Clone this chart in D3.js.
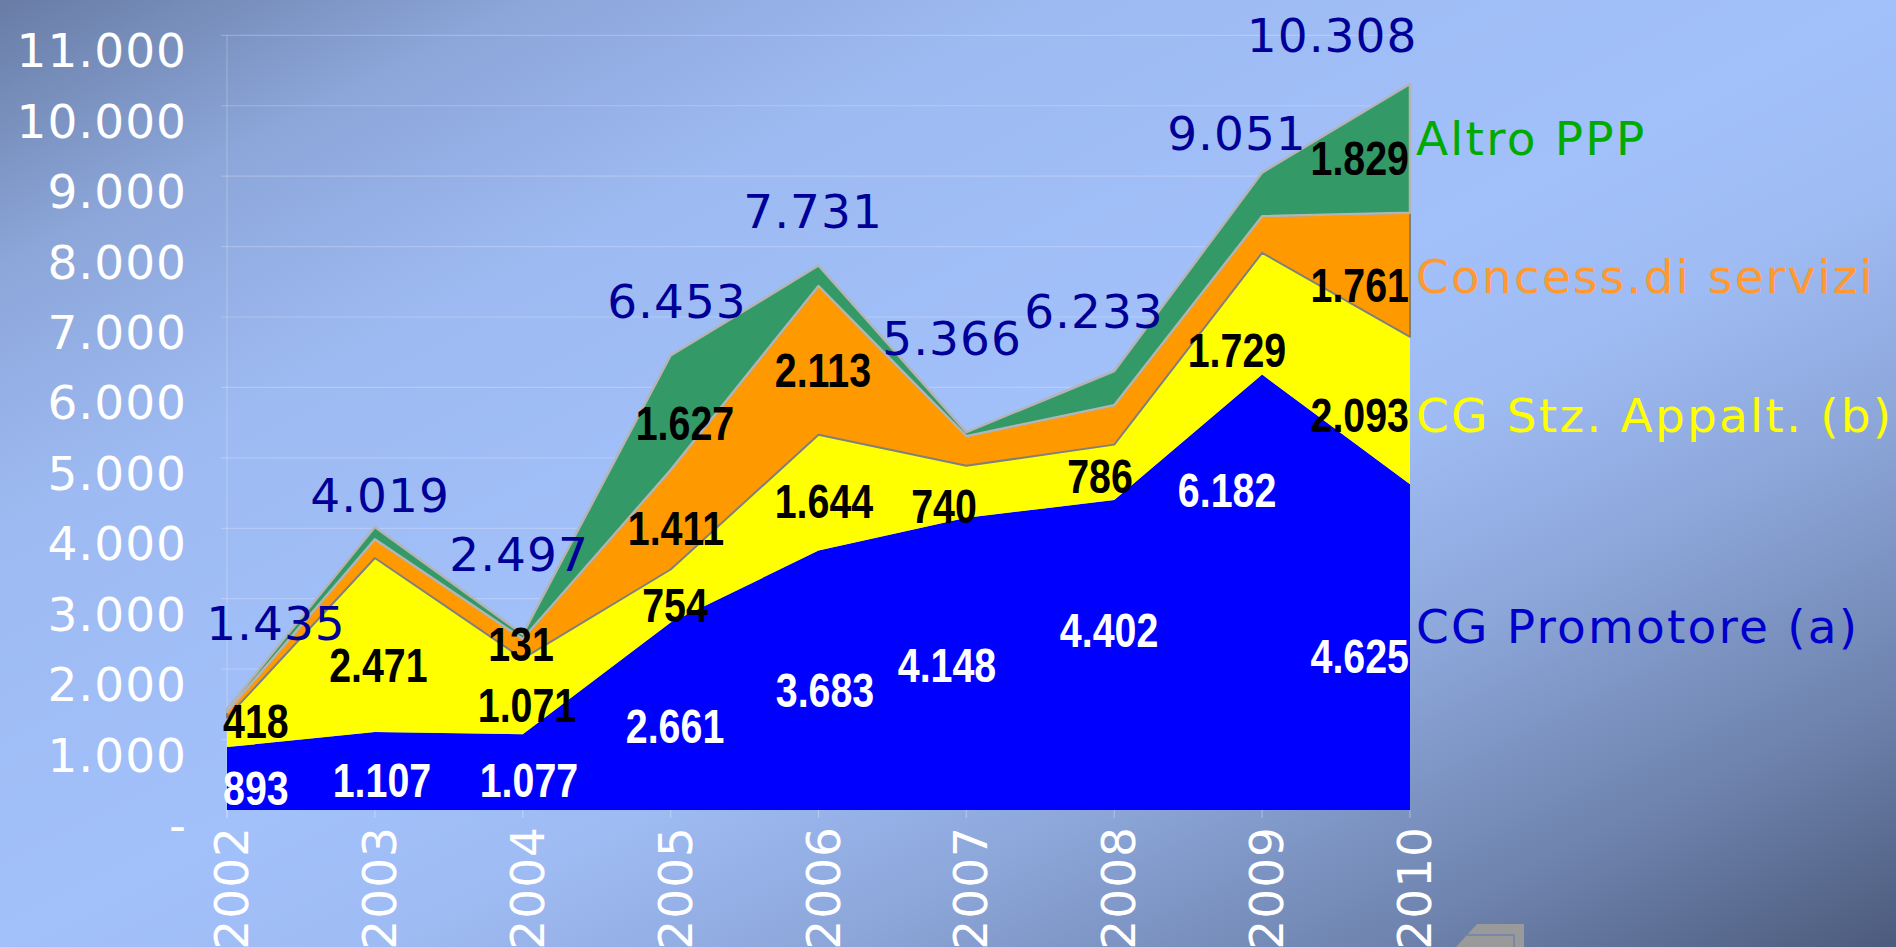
<!DOCTYPE html>
<html><head><meta charset="utf-8">
<script src="https://cdn.jsdelivr.net/npm/d3@7"></script>
<style>html,body{margin:0;padding:0;overflow:hidden;background:#9fbcf6}svg{display:block}</style>
</head><body>
<svg id="chart" width="1896" height="947"></svg>
<script>
// ---------------- data ----------------
const years = ["2002","2003","2004","2005","2006","2007","2008","2009","2010"];
const cgPromotore    = [893, 1107, 1077, 2661, 3683, 4148, 4402, 6182, 4625];
const cgStzAppalt    = [418, 2471, 1071, 754, 1644, 740, 786, 1729, 2093];
const concessServizi = [80, 265, 280, 1411, 2113, 420, 560, 520, 1761];
const altroPPP       = [44, 176, 69, 1627, 291, 58, 485, 620, 1829];
const totals         = [1435, 4019, 2497, 6453, 7731, 5366, 6233, 9051, 10308];
// printed data labels (null = no label shown)
const concessLabels  = [null, null, 131, 1411, 2113, null, null, null, 1761];
const altroLabels    = [null, null, null, 1627, null, null, null, null, 1829];
const seriesNames    = ["CG Promotore (a)", "CG Stz. Appalt. (b)", "Concess.di servizi", "Altro PPP"];
const yTicks         = [0,1000,2000,3000,4000,5000,6000,7000,8000,9000,10000,11000];

// label anchors in data space: [year index, value at text baseline]
const promotoreLabelAt = [[0,71],[1.048,185],[2.042,185],[3.03,951],[4.044,1462],[4.869,1817],[5.965,2314],[6.763,4302],[8,1945]];
const appaltLabelAt    = [[0,1022],[1.024,1817],[2.029,1249],[3.03,2669],[4.037,4146],[4.849,4075],[5.904,4501],[6.83,6290],[8,5367]];
const concessLabelAt   = [null,null,[1.988,2116],[3.036,3763],[4.03,6006],null,null,null,[8,7213]];
const altroLabelAt     = [null,null,null,[3.097,5253],null,null,null,null,[8,9016]];
const totalLabelAt     = [[0.331,2414],[1.035,4231],[1.975,3393],[3.043,6986],[3.963,8264],[4.903,6460],[5.863,6844],[6.83,9371],[7.473,10762]];
const legendAt         = [2371, 5367, 7341, 9300];

// ---------------- setup ----------------
const W = 1896, H = 947;
const svg = d3.select("#chart");
const it = d3.formatLocale({decimal: ",", thousands: ".", grouping: [3], currency: ["€", ""]});
const fmt = it.format(",d");

function hasFont(name) {
  const c = document.createElement("canvas").getContext("2d");
  const probe = "1.234.567 abcdefghij";
  c.font = "bold 40px monospace";
  const a = c.measureText(probe).width;
  c.font = `bold 40px '${name}', monospace`;
  const b = c.measureText(probe).width;
  return Math.abs(a - b) > 0.5;
}
const narrowOK = hasFont("Liberation Sans Narrow");

const defs = svg.append("defs");
const grad = defs.append("linearGradient").attr("id","bg")
  .attr("x1",0).attr("y1",0).attr("x2",1).attr("y2",1);
[[0,"#687ca5"],[0.14,"#8ca6d9"],[0.28,"#9dbaf2"],[0.5,"#a2c0fa"],[0.6,"#9ebbf3"],[0.72,"#8ca6d9"],[0.86,"#6f84af"],[1,"#4c5b7c"]]
  .forEach(([o,c]) => grad.append("stop").attr("offset",o).attr("stop-color",c));
svg.append("rect").attr("width",W).attr("height",H).attr("fill","url(#bg)");

const x = d3.scalePoint().domain(years).range([227, 1410]);
const xi = d3.scaleLinear().domain([0, years.length - 1]).range([227, 1410]);
const y = d3.scaleLinear().domain([0, 11000]).range([810, 35.3]);
const [x0, x1] = x.range();

// gridlines + axis
const grid = svg.append("g");
grid.selectAll("line.g").data(yTicks.filter(d => d > 0)).join("line")
  .attr("x1", x0 - 6).attr("x2", x1).attr("y1", d => y(d)).attr("y2", d => y(d))
  .attr("stroke", "rgba(255,255,255,0.22)").attr("stroke-width", 1.2);
grid.append("line").attr("x1", x0).attr("x2", x0).attr("y1", y(11000)).attr("y2", y(0) + 8)
  .attr("stroke", "rgba(255,255,255,0.22)").attr("stroke-width", 1.2);
grid.selectAll("line.t").data(years).join("line")
  .attr("x1", d => x(d)).attr("x2", d => x(d)).attr("y1", y(0)).attr("y2", y(0) + 8)
  .attr("stroke", "rgba(255,255,255,0.3)").attr("stroke-width", 1.2);

// y tick labels
const numFont = "'DejaVu Sans', Verdana, sans-serif";
svg.append("g").selectAll("text").data(yTicks).join("text")
  .attr("x", x0 - 40).attr("y", d => y(d) + 32)
  .attr("text-anchor", "end")
  .attr("font-family", numFont).attr("font-size", 47).attr("letter-spacing", 1)
  .attr("fill", "#ffffff")
  .text(d => d === 0 ? "-" : fmt(d));

// x tick labels (rotated)
svg.append("g").selectAll("text").data(years).join("text")
  .attr("transform", d => `translate(${x(d) + 21},${y(0) + 16}) rotate(-90)`)
  .attr("text-anchor", "end")
  .attr("font-family", numFont).attr("font-size", 47).attr("letter-spacing", 1)
  .attr("fill", "#ffffff")
  .text(d => d);

// ---------------- stacked areas ----------------
const table = years.map((yr, i) => ({
  year: yr, a: cgPromotore[i], b: cgStzAppalt[i], c: concessServizi[i], d: altroPPP[i]
}));
const stack = d3.stack().keys(["a","b","c","d"]);
const layers = stack(table);
const fills   = ["#0000ff", "#ffff00", "#ff9900", "#339966"];
const strokes = [null, null, "#7f7f7f", "#b4b4b4"];
const strokeW = [0, 0, 2, 2.5];
const area = d3.area().x(d => x(d.data.year)).y0(d => y(d[0])).y1(d => y(d[1]));

svg.append("g").selectAll("path").data(layers).join("path")
  .attr("d", area)
  .attr("fill", (d, i) => fills[i])
  .attr("stroke", (d, i) => strokes[i] || "none")
  .attr("stroke-width", (d, i) => strokeW[i])
  .attr("stroke-linejoin", "round");

// ---------------- data labels ----------------
const labelFont = narrowOK ? "'Liberation Sans Narrow', 'Arial Narrow', sans-serif" : "'Liberation Sans', Arial, sans-serif";
const squeeze = narrowOK ? 1 : 0.82;
const segLabels = [
  {vals: cgPromotore, at: promotoreLabelAt, color: "#ffffff"},
  {vals: cgStzAppalt, at: appaltLabelAt, color: "#000000"},
  {vals: concessLabels, at: concessLabelAt, color: "#000000"},
  {vals: altroLabels, at: altroLabelAt, color: "#000000"}
];
const lg = svg.append("g");
segLabels.forEach(s => {
  s.vals.forEach((v, i) => {
    if (v == null || !s.at[i]) return;
    const [idx, val] = s.at[i];
    const t = lg.append("text")
      .attr("font-family", labelFont).attr("font-weight", "bold").attr("font-size", 48)
      .attr("fill", s.color).attr("x", 0).attr("y", 0).text(fmt(v));
    const w = t.node().getComputedTextLength() * squeeze;
    let left = xi(idx) - w / 2;
    if (left < x0 - 4) left = x0 - 4;
    if (left + w > x1 - 1) left = x1 - 1 - w;
    t.attr("transform", `translate(${left},${y(val)}) scale(${squeeze},1)`);
  });
});

// totals
svg.append("g").selectAll("text").data(totals).join("text")
  .attr("x", (d, i) => xi(totalLabelAt[i][0]))
  .attr("y", (d, i) => y(totalLabelAt[i][1]))
  .attr("text-anchor", "middle")
  .attr("font-family", numFont).attr("font-size", 47).attr("letter-spacing", 1)
  .attr("fill", "#000099")
  .text(d => fmt(d));

// series names at right
const legendColors = ["#0000cc", "#ffff00", "#ff9933", "#00aa00"];
svg.append("g").selectAll("text").data(seriesNames).join("text")
  .attr("x", x1 + 6)
  .attr("y", (d, i) => y(legendAt[i]))
  .attr("font-family", numFont).attr("font-size", 47).attr("letter-spacing", 2.2)
  .attr("fill", (d, i) => legendColors[i])
  .text(d => d);

// small grey logo at the bottom
const logo = svg.append("g");
logo.append("path").attr("d", "M1477,924 L1524,924 L1524,947 L1456,947 Z").attr("fill", "#9a9a9a");
logo.append("path").attr("d", "M1463,935 L1514,935 L1514,947").attr("fill", "none")
  .attr("stroke", "#6f82aa").attr("stroke-width", 1.5);
</script>
</body></html>
